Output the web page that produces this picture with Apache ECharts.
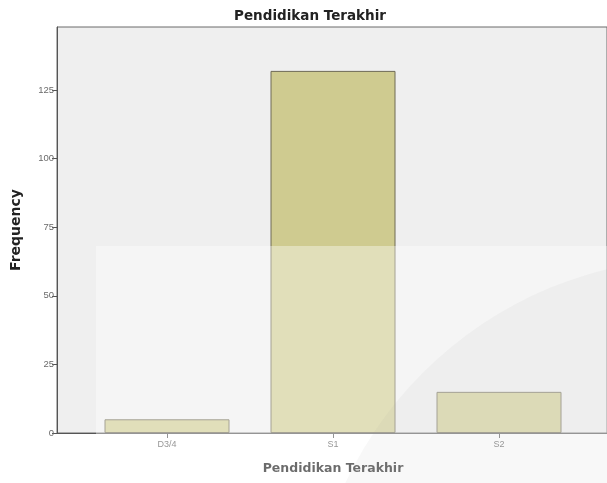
<!DOCTYPE html>
<html>
<head>
<meta charset="utf-8">
<script src="https://cdn.jsdelivr.net/npm/echarts@6/dist/echarts.min.js"></script>
<style>
html,body{margin:0;padding:0;background:#fff;}
#c{width:607px;height:483px;}
</style>
</head>
<body>
<div id="c"></div>
<script>
const categories = ["D3/4", "S1", "S2"];
const frequency = [5, 132, 15];
const yTicks = [0, 25, 50, 75, 100, 125];
const yMax = 148;

const chart = echarts.init(document.getElementById('c'), null, {renderer: 'canvas'});
const font = '"DejaVu Sans", Verdana, sans-serif';
const font2 = 'Arial, "Liberation Sans", sans-serif';
const option = {
  animation: false,
  backgroundColor: '#ffffff',
  title: {
    text: 'Pendidikan Terakhir',
    left: 305, top: 4, textAlign: 'center',
    textStyle: {fontFamily: font, fontSize: 13.5, fontWeight: 'bold', color: '#222'}
  },
  grid: [
    {left: 57, right: -2, top: 27, bottom: 50, show: true, backgroundColor: '#efefef', borderColor: '#6a6a6a', borderWidth: 1},
    {left: 84, right: 25, top: 27, bottom: 50}
  ],
  xAxis: [
    {gridIndex: 0, type: 'value', min: 0, max: 1, show: true,
     axisLine: {show: true, lineStyle: {color: '#555', width: 1}},
     axisTick: {show: false}, axisLabel: {show: false}, splitLine: {show: false}},
    {gridIndex: 1, type: 'category', data: categories,
     axisLine: {show: false},
     axisTick: {show: true, alignWithLabel: true, length: 5, lineStyle: {color: '#555'}},
     axisLabel: {fontFamily: font2, fontSize: 9, color: '#555', margin: 7},
     name: 'Pendidikan Terakhir', nameLocation: 'middle', nameGap: 29,
     nameTextStyle: {fontFamily: font, fontSize: 12.5, fontWeight: 'bold', color: '#111'}}
  ],
  yAxis: [
    {gridIndex: 0, type: 'value', min: 0, max: yMax,
     axisLine: {show: true, lineStyle: {color: '#555', width: 1}},
     axisTick: {show: true, length: 5, lineStyle: {color: '#555'}, customValues: yTicks},
     axisLabel: {fontFamily: font2, fontSize: 9.5, color: '#6a6a6a', margin: 3, customValues: yTicks},
     splitLine: {show: false},
     name: 'Frequency', nameLocation: 'middle', nameGap: 34, nameRotate: 90,
     nameTextStyle: {fontFamily: font, fontSize: 14, fontWeight: 'bold', color: '#222'}},
    {gridIndex: 1, type: 'value', min: 0, max: yMax, show: false}
  ],
  series: [{
    type: 'bar', xAxisIndex: 1, yAxisIndex: 1,
    data: frequency, barWidth: 125,
    itemStyle: {color: '#cfcb90', borderColor: '#6e6a55', borderWidth: 1}
  }],
  graphic: [
    {type: 'rect', z: 100, silent: true,
     shape: {x: 96, y: 246, width: 520, height: 250},
     style: {fill: 'rgba(255,255,255,0.38)'}},
    {type: 'circle', z: 101, silent: true,
     shape: {cx: 700, cy: 650, r: 392},
     style: {fill: 'rgba(150,150,150,0.07)'}}
  ]
};
chart.setOption(option);
</script>
</body>
</html>
